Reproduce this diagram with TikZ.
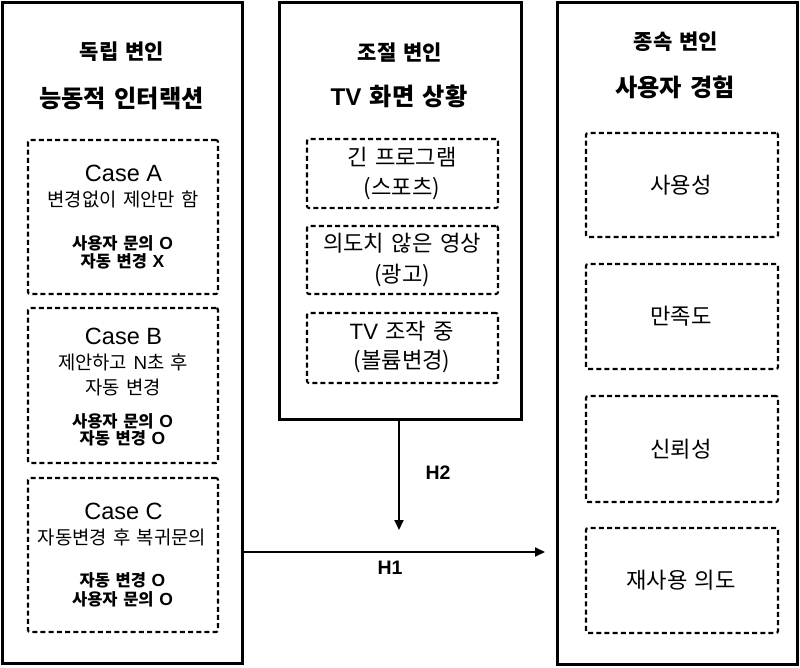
\documentclass[tikz,border=0pt]{standalone}
\usepackage{fontspec}
\setmainfont{Noto Sans CJK KR}[WordSpace=1.5]
\newfontfamily\lat{Liberation Sans}
\newfontfamily\latbold{Liberation Sans Bold}
\newcommand{\latb}[1]{{\lat\bfseries #1}}
\newcommand{\ox}[1]{{\latbold\fontsize{17.5}{19}\selectfont #1}}
\usetikzlibrary{arrows.meta}
\begin{document}
\begin{tikzpicture}[x=1pt,y=-1pt,
  every node/.style={inner sep=0pt, outer sep=0pt},
  outerbox/.style={draw, line width=3pt},
  innerbox/.style={draw, line width=2.1pt, dash pattern=on 5pt off 3.2pt, rounded corners=2pt},
  arr/.style={line width=2pt, -{Triangle[length=10pt,width=9pt]}},
  ttl/.style={font=\fontsize{21}{24}\selectfont\bfseries},
  bigttl/.style={font=\fontsize{24.2}{28}\selectfont\bfseries},
  casettl/.style={font=\lat\fontsize{23.5}{27}\selectfont},
  sub/.style={font=\fontsize{18.8}{21}\selectfont},
  bsub/.style={font=\fontsize{16.5}{19}\selectfont\bfseries},
  mid/.style={font=\fontsize{22.2}{25}\selectfont},
  hlab/.style={font=\lat\fontsize{19.5}{22}\selectfont\bfseries}
]
\useasboundingbox (0,0) rectangle (800,668);

% outer boxes
\node[outerbox, minimum width=240pt, minimum height=661pt] (L) at (122.5,333) {};
\node[outerbox, minimum width=241.5pt, minimum height=416pt] (M) at (400.25,211) {};
\node[outerbox, minimum width=240pt, minimum height=661pt] (R) at (677,333.5) {};

% left titles
\node[ttl] (Lt1) at (122,52) {독립 변인};
\node[bigttl] (Lt2) at (121.5,98) {능동적 인터랙션};

% left dashed boxes
\node[innerbox, minimum width=190pt, minimum height=154pt] (CA) at (123,217) {};
\node[innerbox, minimum width=190pt, minimum height=155pt] (CB) at (123,385.5) {};
\node[innerbox, minimum width=190pt, minimum height=154pt] (CC) at (123,555) {};

\node[casettl] (CAt) at (123.5,173) {Case A};
\node[sub] (CAs) at (123,199) {변경없이 제안만 함};
\node[bsub] (CAb1) at (122.5,243) {사용자 문의 \ox{O}};
\node[bsub] (CAb2) at (122.5,261) {자동 변경 \ox{X}};

\node[casettl] (CBt) at (123.5,336) {Case B};
\node[sub] (CBs1) at (123,362) {제안하고 {\lat N}초 후};
\node[sub] (CBs2) at (123,387) {자동 변경};
\node[bsub] (CBb1) at (122.5,421) {사용자 문의 \ox{O}};
\node[bsub] (CBb2) at (122.5,438) {자동 변경 \ox{O}};

\node[casettl] (CCt) at (123.5,511) {Case C};
\node[sub] (CCs) at (122,537) {자동변경 후 복귀문의};
\node[bsub] (CCb1) at (122.5,580) {자동 변경 \ox{O}};
\node[bsub] (CCb2) at (122.5,599) {사용자 문의 \ox{O}};

% middle titles
\node[ttl] (Mt1) at (400,53) {조절 변인};
\node[bigttl] (Mt2) at (399,96) {\latb{TV} 화면 상황};

% middle dashed boxes
\node[innerbox, minimum width=191pt, minimum height=69pt] (M1) at (402.5,173.5) {};
\node[innerbox, minimum width=191pt, minimum height=68pt] (M2) at (402.5,260) {};
\node[innerbox, minimum width=191pt, minimum height=70pt] (M3) at (402.5,348) {};

\node[mid] (M1a) at (402,157) {긴 프로그램};
\node[mid] (M1b) at (402,189) {(스포츠)};
\node[mid] (M2a) at (402,243) {의도치 않은 영상};
\node[mid] (M2b) at (402,275) {(광고)};
\node[mid] (M3a) at (402,331) {{\lat TV} 조작 중};
\node[mid] (M3b) at (402,362) {(볼륨변경)};

% right titles
\node[ttl] (Rt1) at (676,42) {종속 변인};
\node[bigttl] (Rt2) at (675,87) {사용자 경험};

% right dashed boxes
\node[innerbox, minimum width=192pt, minimum height=104pt] (R1) at (682,185) {};
\node[innerbox, minimum width=192pt, minimum height=105pt] (R2) at (682,316.5) {};
\node[innerbox, minimum width=192pt, minimum height=106pt] (R3) at (682,449) {};
\node[innerbox, minimum width=192pt, minimum height=105pt] (R4) at (682,580.5) {};

\node[mid] (R1t) at (681,185) {사용성};
\node[mid] (R2t) at (681,316.5) {만족도};
\node[mid] (R3t) at (681,449) {신뢰성};
\node[mid] (R4t) at (681,580) {재사용 의도};

% arrows
\coordinate (h1end) at (545,552);
\coordinate (h2end) at (399,530);
\draw[arr] (L.east |- h1end) -- (h1end);
\draw[arr] (M.south -| h2end) -- (h2end);
\node[hlab] (H1) at (390,568) {H1};
\node[hlab] (H2) at (438,473) {H2};
\end{tikzpicture}
\end{document}
